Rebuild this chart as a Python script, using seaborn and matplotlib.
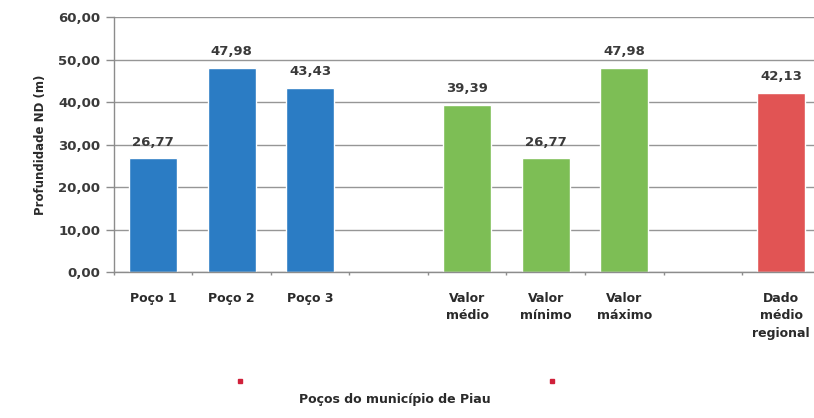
import matplotlib
matplotlib.use("Agg")
import matplotlib.pyplot as plt
import seaborn as sns
import pandas as pd
import numpy as np
from matplotlib.ticker import FixedLocator, FuncFormatter

# Data
categories = ["Poço 1", "Poço 2", "Poço 3",
              "Valor\nmédio", "Valor\nmínimo", "Valor\nmáximo",
              "Dado\nmédio\nregional"]
values = [26.77, 47.98, 43.43, 39.39, 26.77, 47.98, 42.13]
groups = ["poco", "poco", "poco", "stat", "stat", "stat", "regional"]
# category order with empty slots separating the groups
order = ["Poço 1", "Poço 2", "Poço 3", " ",
         "Valor\nmédio", "Valor\nmínimo", "Valor\nmáximo", "  ",
         "Dado\nmédio\nregional"]
yticks = [0, 10, 20, 30, 40, 50, 60]

palette = {"poco": "#2B7CC4", "stat": "#7DBE55", "regional": "#E15454"}

df = pd.DataFrame({"categoria": categories, "valor": values, "grupo": groups})

sns.set_theme(style="white")
plt.rcParams["font.family"] = ["DejaVu Sans"]

fig = plt.figure(figsize=(8.14, 4.18), dpi=100)
ax = fig.add_axes([0.140, 0.349, 0.868, 0.610])

sns.barplot(data=df, x="categoria", y="valor", hue="grupo", order=order,
            palette=palette, dodge=False, width=0.61, legend=False,
            saturation=1, ax=ax)

ax.set_ylim(0, 60)
ax.set_xlim(-0.5, len(order) - 0.5)
ax.yaxis.set_major_locator(FixedLocator(yticks))
ax.yaxis.set_major_formatter(FuncFormatter(lambda v, p: f"{v:.2f}".replace(".", ",")))
ax.grid(axis="y", color="#969696", linewidth=1.0)
ax.set_axisbelow(True)

for s in ["top", "right"]:
    ax.spines[s].set_visible(False)
for s in ["left", "bottom"]:
    ax.spines[s].set_color("#8C8C8C")
    ax.spines[s].set_linewidth(1.0)

ax.tick_params(axis="y", which="major", length=6, width=1, color="#8C8C8C",
               left=True, labelsize=9.5, labelcolor="#3A3A3A", pad=4)
ax.tick_params(axis="x", which="major", length=0, labelsize=9,
               labelcolor="#2A2A2A", pad=14)
ax.xaxis.set_minor_locator(FixedLocator(np.arange(-0.5, len(order), 1.0)))
ax.tick_params(axis="x", which="minor", length=2.5, width=1, color="#8C8C8C",
               bottom=True)
for lab in ax.get_yticklabels():
    lab.set_fontweight("bold")
for lab in ax.get_xticklabels():
    lab.set_fontweight("bold")
    lab.set_verticalalignment("top")
    lab.set_linespacing(1.45)

ax.set_xlabel("")
ax.set_ylabel("Profundidade ND (m)", fontsize=8.5, fontweight="bold",
              color="#2A2A2A", labelpad=8)

# value labels above each bar
for cat, val in zip(categories, values):
    xpos = order.index(cat)
    ax.annotate(f"{val:.2f}".replace(".", ","), (xpos, val),
                xytext=(0, 7), textcoords="offset points",
                ha="center", va="bottom", fontsize=9.5,
                fontweight="bold", color="#3A3A3A")

# legend remnants and axis title below
for fx in (240 / 814, 552 / 814):
    fig.patches.append(plt.Rectangle((fx - 0.002, 1 - 383 / 418), 0.004, 0.009,
                                     transform=fig.transFigure,
                                     color="#D0203A", zorder=5))
fig.text(395 / 814, 1 - 400 / 418, "Poços do município de Piau",
         ha="center", va="center", fontsize=9, fontweight="bold",
         color="#2A2A2A")

fig.savefig("out.png", dpi=100)
